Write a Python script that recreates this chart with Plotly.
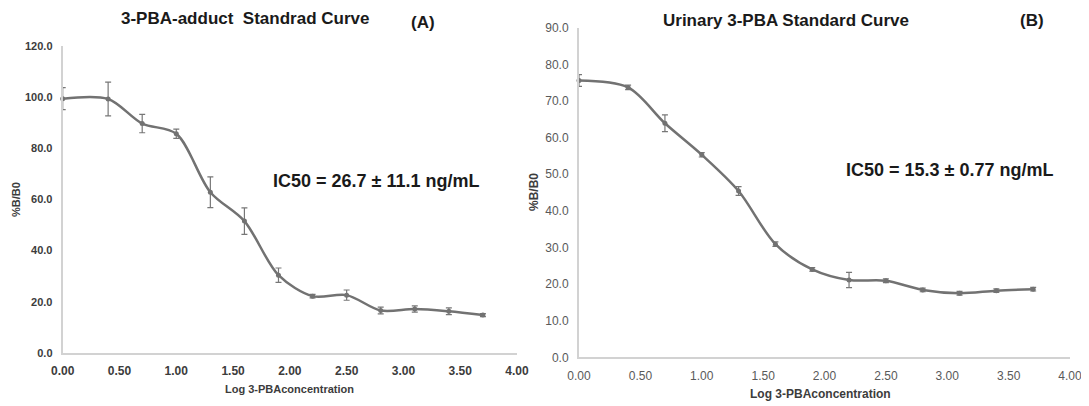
import plotly.graph_objects as go

# Data
log_conc = [0.0, 0.4, 0.7, 1.0, 1.3, 1.6, 1.9, 2.2, 2.5, 2.8, 3.1, 3.4, 3.7]

adduct_mean = [99.3, 99.2, 89.6, 85.6, 62.8, 51.5, 30.4, 22.2, 22.6, 16.6, 17.2, 16.3, 14.8]
adduct_err = [4.3, 6.6, 3.6, 1.8, 6.0, 5.2, 2.8, 0.7, 2.0, 1.3, 1.2, 1.3, 0.6]

urinary_mean = [75.6, 73.7, 63.9, 55.3, 45.4, 30.9, 24.0, 21.1, 20.9, 18.4, 17.5, 18.2, 18.6]
urinary_err = [1.6, 0.6, 2.3, 0.6, 1.2, 0.6, 0.5, 2.1, 0.5, 0.5, 0.5, 0.5, 0.5]

title_a = "3-PBA-adduct  Standrad Curve"
title_b = "Urinary 3-PBA Standard Curve"
ic50_a = "IC50 = 26.7 ± 11.1 ng/mL"
ic50_b = "IC50 = 15.3 ± 0.77 ng/mL"
x_title = "Log 3-PBAconcentration"
y_title = "%B/B0"

# The page body has an 8px default margin, so the figure is drawn 8px in.
OFF = 8
W, H = 1089 - OFF, 406 - OFF
FONT = "Liberation Sans, Arial, sans-serif"
LINE_C = "#727272"
AXIS_C = "#d2d2d2"


def px_x(p):
    return (p - OFF) / W


def px_y(p):
    return 1 - (p - OFF) / H


fig = go.Figure()

for mean, err, xa, ya in [(adduct_mean, adduct_err, "x", "y"),
                          (urinary_mean, urinary_err, "x2", "y2")]:
    fig.add_trace(go.Scatter(
        x=log_conc, y=mean, xaxis=xa, yaxis=ya,
        mode="lines+markers",
        line=dict(color=LINE_C, width=2.5, shape="spline", smoothing=0.9),
        marker=dict(color=LINE_C, size=5, symbol="circle"),
        error_y=dict(type="data", array=err, visible=True,
                     color="#777777", thickness=1.2, width=3),
        showlegend=False, cliponaxis=False,
    ))

common_x = dict(range=[0, 4], dtick=0.5, tick0=0, tickformat=".2f",
                showline=True, linecolor=AXIS_C, linewidth=2,
                showgrid=False, zeroline=False, ticks="",
                ticklabelstandoff=6, automargin=False)
common_y = dict(showline=True, linecolor=AXIS_C, linewidth=2,
                showgrid=False, zeroline=False, ticks="",
                tickformat=".1f", ticklabelstandoff=6, automargin=False)

fig.update_layout(
    width=W, height=H,
    margin=dict(l=0, r=0, t=0, b=0, pad=0),
    paper_bgcolor="white", plot_bgcolor="white",
    xaxis=dict(domain=[px_x(62.7), px_x(517)], anchor="y",
               tickfont=dict(family=FONT, size=12, color="#3c3c3c", weight="bold"),
               **common_x),
    yaxis=dict(domain=[px_y(353), px_y(45.7)], anchor="x", range=[0, 120], dtick=20,
               tickfont=dict(family=FONT, size=11, color="#3c3c3c", weight="bold"),
               **common_y),
    xaxis2=dict(domain=[px_x(579), px_x(1070)], anchor="y2",
                tickfont=dict(family=FONT, size=12, color="#595959"),
                **common_x),
    yaxis2=dict(domain=[px_y(357.3), px_y(27.7)], anchor="x2", range=[0, 90], dtick=10,
                tickfont=dict(family=FONT, size=12, color="#595959"),
                **common_y),
)


def ann(text, x, y, size, color="#1a1a1a", bold=True, angle=0):
    fig.add_annotation(text=text, x=px_x(x), y=px_y(y), xref="paper", yref="paper",
                       showarrow=False, xanchor="center", yanchor="middle",
                       textangle=angle, borderpad=0,
                       font=dict(family=FONT, size=size, color=color,
                                 weight="bold" if bold else "normal"))


ann(title_a, 245, 18.5, 17)
ann("(A)", 423, 22, 17)
ann(title_b, 786, 20, 17)
ann("(B)", 1032, 20, 17)
ann(ic50_a, 376, 181, 18)
ann(ic50_b, 949, 170, 18)
ann(x_title, 289, 389, 11, color="#3c3c3c")
ann(x_title, 820, 394, 12, color="#3c3c3c")
ann(y_title, 16, 200, 11, color="#3c3c3c", angle=-90)
ann(y_title, 534, 192, 12, color="#3c3c3c", angle=-90)

fig.write_html("out.html")
